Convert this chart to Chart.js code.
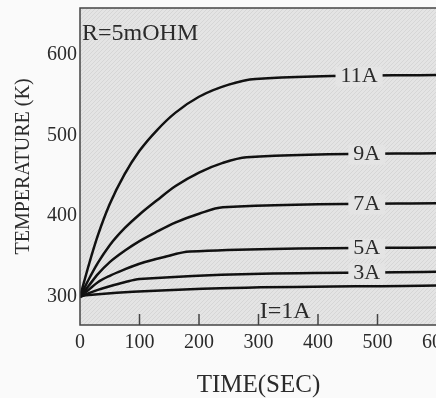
<!DOCTYPE html>
<html>
<head>
<meta charset="utf-8">
<script src="https://cdn.jsdelivr.net/npm/chart.js@4.4.0/dist/chart.umd.min.js"></script>
<style>
  html, body { margin: 0; padding: 0; background: #fafafa; overflow: hidden; }
  #wrap { width: 436px; height: 398px; overflow: hidden; }
</style>
</head>
<body>
<div id="wrap"><canvas id="graphe" width="470" height="398"></canvas></div>
<script>
// ==========================================
//  DONNEES
// ==========================================
const xTicks = [0, 100, 200, 300, 400, 500, 600];
const yTicks = [300, 400, 500, 600];

const temps11A = [0, 15, 30, 50, 75, 100, 130, 160, 200, 250, 295, 600];
const valeurs11A = [300, 340, 376, 415, 452, 481, 507, 528, 548, 563, 570, 575];

const temps9A = [0, 15, 30, 50, 75, 100, 130, 160, 200, 240, 280, 600];
const valeurs9A = [300, 322, 342, 364, 385, 402, 420, 437, 454, 466, 473, 478];

const temps7A = [0, 15, 30, 50, 75, 100, 130, 160, 200, 240, 600];
const valeurs7A = [300, 314, 328, 343, 357, 369, 381, 392, 403, 411, 416];

const temps5A = [0, 15, 30, 50, 75, 100, 140, 185, 600];
const valeurs5A = [300, 309, 318, 326, 334, 341, 349, 356, 361];

const temps3A = [0, 15, 30, 50, 75, 100, 600];
const valeurs3A = [300, 304.5, 308.5, 313, 318, 322, 331];

const temps1A = [0, 10, 600];
const valeurs1A = [300, 302, 314];

const etiquettes = ['11A', '9A', '7A', '5A', '3A', 'I=1A'];
const positionEtiquettes = [469, 482, 482, 482, 482, 345];

const police = '"Liberation Serif", "DejaVu Serif", serif';
const couleurTexte = '#2b2b2b';

function points(ts, vs) {
    return ts.map((t, i) => ({ x: t, y: vs[i] }));
}

// valeur d'une courbe au temps t (pour placer l'etiquette)
function valeurA(ts, vs, t) {
    for (let i = 1; i < ts.length; i++) {
        if (t <= ts[i]) {
            const r = (t - ts[i - 1]) / (ts[i] - ts[i - 1]);
            return vs[i - 1] + r * (vs[i] - vs[i - 1]);
        }
    }
    return vs[vs.length - 1];
}

const series = [
    [temps11A, valeurs11A],
    [temps9A, valeurs9A],
    [temps7A, valeurs7A],
    [temps5A, valeurs5A],
    [temps3A, valeurs3A],
    [temps1A, valeurs1A]
];

// ==========================================
//  FOND HACHURE
// ==========================================
function motifFond(ctx) {
    const c = document.createElement('canvas');
    c.width = 4; c.height = 4;
    const g = c.getContext('2d');
    g.fillStyle = '#e4e4e4';
    g.fillRect(0, 0, 4, 4);
    g.strokeStyle = '#d6d6d6';
    g.lineWidth = 1;
    g.beginPath();
    g.moveTo(0, 4); g.lineTo(4, 0);
    g.stroke();
    return ctx.createPattern(c, 'repeat');
}

const pluginFond = {
    id: 'fond',
    beforeDraw(chart) {
        const { ctx, chartArea: a } = chart;
        ctx.save();
        ctx.fillStyle = motifFond(ctx);
        ctx.fillRect(a.left, a.top, a.right - a.left, a.bottom - a.top);
        ctx.restore();
    }
};

const pluginDecor = {
    id: 'decor',
    afterDatasetsDraw(chart) {
        const { ctx, chartArea: a, scales } = chart;
        ctx.save();

        // cadre
        ctx.strokeStyle = '#444';
        ctx.lineWidth = 1.5;
        ctx.strokeRect(a.left, a.top, a.right - a.left, a.bottom - a.top);

        // graduations interieures sur l'axe des temps
        xTicks.forEach(v => {
            if (v === 0 || v === 600) return;
            const px = scales.x.getPixelForValue(v);
            ctx.beginPath();
            ctx.moveTo(px, a.bottom);
            ctx.lineTo(px, a.bottom - 11);
            ctx.stroke();
        });

        // etiquettes des courbes
        ctx.textBaseline = 'middle';
        ctx.textAlign = 'center';
        etiquettes.forEach((txt, i) => {
            const t = positionEtiquettes[i];
            const px = scales.x.getPixelForValue(t);
            if (txt === 'I=1A') {
                ctx.font = '24px ' + police;
                const py = scales.y.getPixelForValue(282);
                ctx.fillStyle = couleurTexte;
                ctx.fillText(txt, px, py);
                return;
            }
            ctx.font = '22px ' + police;
            const v = valeurA(series[i][0], series[i][1], t);
            const py = scales.y.getPixelForValue(v);
            const w = ctx.measureText(txt).width + 10;
            ctx.fillStyle = '#e4e4e4';
            ctx.fillRect(px - w / 2, py - 10, w, 20);
            ctx.fillStyle = couleurTexte;
            ctx.fillText(txt, px, py);
        });

        // resistance
        ctx.textAlign = 'left';
        ctx.font = '24px ' + police;
        ctx.fillText('R=5mOHM', a.left + 2, a.top + 26);
        ctx.restore();
    }
};

// ==========================================
//  GRAPHIQUE
// ==========================================
const ctx = document.getElementById('graphe').getContext('2d');

new Chart(ctx, {
    type: 'line',
    data: {
        datasets: series.map((s, i) => ({
            label: etiquettes[i],
            data: points(s[0], s[1]),
            borderColor: '#111',
            borderWidth: 2.5,
            pointRadius: 0,
            fill: false,
            cubicInterpolationMode: 'monotone'
        }))
    },
    options: {
        responsive: false,
        animation: false,
        layout: { padding: { left: 0, top: 8, right: 33, bottom: 0 } },
        plugins: {
            legend: { display: false },
            tooltip: { enabled: false }
        },
        scales: {
            x: {
                type: 'linear',
                min: 0,
                max: 600,
                afterBuildTicks: scale => { scale.ticks = xTicks.map(v => ({ value: v })); },
                afterFit: scale => { scale.height = 73; },
                grid: { display: false, drawTicks: false },
                border: { display: false },
                ticks: { color: couleurTexte, padding: 6, font: { family: police, size: 20 } },
                title: {
                    display: true,
                    text: 'TIME(SEC)',
                    color: couleurTexte,
                    font: { family: police, size: 25, lineHeight: 1 },
                    padding: { top: 0, bottom: 0 }
                }
            },
            y: {
                min: 265,
                max: 658,
                afterBuildTicks: scale => { scale.ticks = yTicks.map(v => ({ value: v })); },
                afterFit: scale => {
                    scale.width = 80;
                    scale.paddingTop = 0;
                    scale.paddingBottom = 0;
                },
                grid: { display: false, drawTicks: false },
                border: { display: false },
                ticks: { color: couleurTexte, padding: 3, font: { family: police, size: 20 } },
                title: {
                    display: true,
                    text: 'TEMPERATURE (K)',
                    color: couleurTexte,
                    font: { family: police, size: 20, lineHeight: 1.2 },
                    padding: { top: 12, bottom: 0 }
                }
            }
        }
    },
    plugins: [pluginFond, pluginDecor]
});
</script>
</body>
</html>
